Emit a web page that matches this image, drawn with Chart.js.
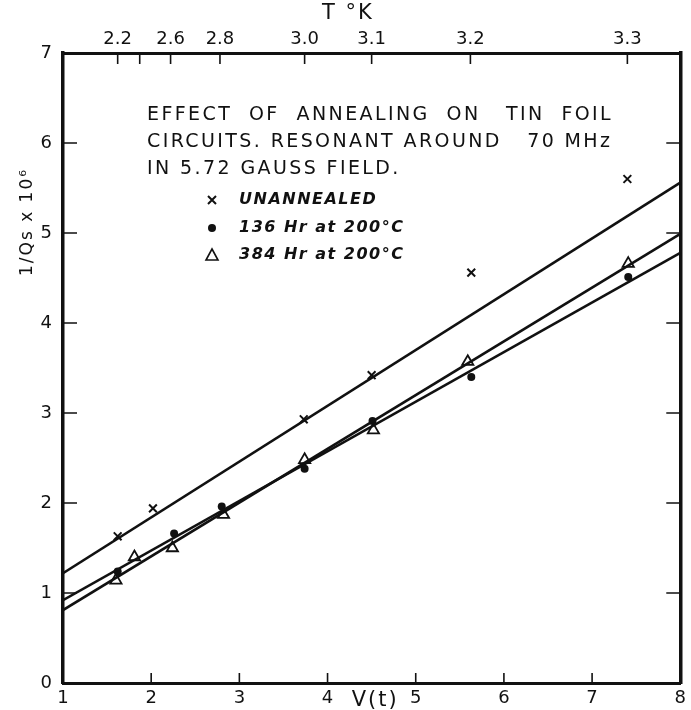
<!DOCTYPE html>
<html>
<head>
<meta charset="utf-8">
<script src="https://cdn.jsdelivr.net/npm/chart.js@4/dist/chart.umd.min.js"></script>
<style>
  html, body { margin: 0; padding: 0; background: #fff; }
</style>
</head>
<body>
<canvas id="anneal-chart" width="691" height="710"></canvas>
<script>
const unannealedV = [1.62, 2.02, 3.73, 4.50, 5.63, 7.40];
const unannealedQ = [1.63, 1.94, 2.93, 3.42, 4.56, 5.60];

const hr136V = [1.62, 2.26, 2.80, 3.74, 4.51, 5.63, 7.41];
const hr136Q = [1.24, 1.66, 1.96, 2.38, 2.91, 3.40, 4.51];

const hr384V = [1.60, 1.81, 2.24, 2.82, 3.74, 4.52, 5.59, 7.41];
const hr384Q = [1.14, 1.40, 1.50, 1.87, 2.48, 2.81, 3.57, 4.66];

// straight fitted lines, end values at V = 1 and V = 8
const fitV = [1, 8];
const unannealedFit = [1.22, 5.56];
const hr136Fit = [0.92, 4.78];
const hr384Fit = [0.81, 4.99];

// top axis: temperature ticks placed at their V(t) value
const tempTickV = [1.62, 1.87, 2.22, 2.78, 3.74, 4.50, 5.62, 7.40];
const tempTickLabels = ['2.2', '', '2.6', '2.8', '3.0', '3.1', '3.2', '3.3'];

const vTicks = [1, 2, 3, 4, 5, 6, 7, 8];
const qTicks = [0, 1, 2, 3, 4, 5, 6, 7];

const noteLines = [
    'EFFECT  OF  ANNEALING  ON   TIN  FOIL',
    'CIRCUITS. RESONANT AROUND   70 MHz',
    'IN 5.72 GAUSS FIELD.'
];
const legendLabels = ['UNANNEALED', '136 Hr at 200°C', '384 Hr at 200°C'];

const ink = '#111';
const tickFont = { family: 'DejaVu Sans', size: 18 };

const toPoints = (xs, ys) => xs.map((x, i) => ({ x: x, y: ys[i] }));

const lineSet = (ys) => ({
    data: toPoints(fitV, ys),
    showLine: true,
    borderColor: ink,
    borderWidth: 2.6,
    pointRadius: 0,
    pointHoverRadius: 0
});

const paperPlugin = {
    id: 'paper',
    afterDraw(chart) {
        const ctx = chart.ctx;
        const area = chart.chartArea;
        const x = chart.scales.x;
        const y = chart.scales.y;
        ctx.save();
        ctx.strokeStyle = ink;
        ctx.lineWidth = 1.6;

        // inward tick marks
        qTicks.slice(1, -1).forEach(v => {
            const py = y.getPixelForValue(v);
            ctx.beginPath();
            ctx.moveTo(area.left, py);
            ctx.lineTo(area.left + 14, py);
            ctx.moveTo(area.right, py);
            ctx.lineTo(area.right - 14, py);
            ctx.stroke();
        });
        vTicks.slice(1, -1).forEach(v => {
            const px = x.getPixelForValue(v);
            ctx.beginPath();
            ctx.moveTo(px, area.bottom);
            ctx.lineTo(px, area.bottom - 10);
            ctx.stroke();
        });
        tempTickV.forEach(v => {
            const px = x.getPixelForValue(v);
            ctx.beginPath();
            ctx.moveTo(px, area.top);
            ctx.lineTo(px, area.top + 11);
            ctx.stroke();
        });

        // axis titles
        ctx.fillStyle = ink;
        ctx.textBaseline = 'middle';
        ctx.textAlign = 'center';
        ctx.font = '21px "DejaVu Sans"';
        ctx.letterSpacing = '2px';
        ctx.fillText('T °K', 348, 14);
        ctx.fillText('V(t)', x.getPixelForValue(4.54), 701);

        ctx.save();
        ctx.translate(28, 222);
        ctx.rotate(-Math.PI / 2);
        ctx.font = '17px "DejaVu Sans"';
        ctx.letterSpacing = '2px';
        ctx.fillText('1/Qs x 10⁶', 0, 0);
        ctx.restore();

        // note block
        ctx.textAlign = 'left';
        ctx.font = '19px "DejaVu Sans"';
        ctx.letterSpacing = '2.4px';
        noteLines.forEach((t, i) => ctx.fillText(t, 147, 115 + i * 27));

        // legend
        ctx.font = 'italic bold 16px "DejaVu Sans"';
        ctx.letterSpacing = '1.5px';
        const rows = [200, 228, 255];
        legendLabels.forEach((t, i) => ctx.fillText(t, 239, rows[i]));

        const lx = 212;
        ctx.lineWidth = 2;
        ctx.beginPath();
        ctx.moveTo(lx - 4, rows[0] - 4);
        ctx.lineTo(lx + 4, rows[0] + 4);
        ctx.moveTo(lx + 4, rows[0] - 4);
        ctx.lineTo(lx - 4, rows[0] + 4);
        ctx.stroke();

        ctx.beginPath();
        ctx.arc(lx, rows[1], 4, 0, Math.PI * 2);
        ctx.fill();

        ctx.lineWidth = 1.6;
        ctx.beginPath();
        ctx.moveTo(lx, rows[2] - 6);
        ctx.lineTo(lx + 6, rows[2] + 5);
        ctx.lineTo(lx - 6, rows[2] + 5);
        ctx.closePath();
        ctx.stroke();
        ctx.restore();
    }
};

new Chart(document.getElementById('anneal-chart'), {
    type: 'scatter',
    data: {
        datasets: [
            lineSet(unannealedFit),
            lineSet(hr136Fit),
            lineSet(hr384Fit),
            {
                data: toPoints(unannealedV, unannealedQ),
                pointStyle: 'crossRot',
                pointRadius: 5.5,
                borderColor: ink,
                pointBorderWidth: 2
            },
            {
                data: toPoints(hr136V, hr136Q),
                pointStyle: 'circle',
                pointRadius: 4,
                backgroundColor: ink,
                borderColor: ink,
                pointBorderWidth: 0
            },
            {
                data: toPoints(hr384V, hr384Q),
                pointStyle: 'triangle',
                pointRadius: 6.5,
                backgroundColor: 'rgba(255,255,255,0)',
                borderColor: ink,
                pointBorderWidth: 1.8
            }
        ]
    },
    options: {
        responsive: false,
        animation: false,
        events: [],
        layout: { padding: 0 },
        plugins: {
            legend: { display: false },
            tooltip: { enabled: false }
        },
        scales: {
            x: {
                type: 'linear',
                position: 'bottom',
                min: 1,
                max: 8,
                afterBuildTicks: (s) => { s.ticks = vTicks.map(v => ({ value: v })); },
                afterFit: (s) => { s.height = 27; },
                ticks: { color: ink, font: tickFont, padding: 5, autoSkip: false, maxRotation: 0 },
                grid: { drawOnChartArea: false, drawTicks: false },
                border: { color: ink, width: 3 }
            },
            xTop: {
                type: 'linear',
                position: 'top',
                min: 1,
                max: 8,
                afterBuildTicks: (s) => { s.ticks = tempTickV.map(v => ({ value: v })); },
                afterFit: (s) => { s.height = 53; },
                ticks: {
                    color: ink,
                    font: tickFont,
                    padding: 3,
                    autoSkip: false,
                    maxRotation: 0,
                    callback: (v, i) => tempTickLabels[i]
                },
                grid: { drawOnChartArea: false, drawTicks: false },
                border: { color: ink, width: 3 }
            },
            y: {
                type: 'linear',
                position: 'left',
                min: 0,
                max: 7,
                afterBuildTicks: (s) => { s.ticks = qTicks.map(v => ({ value: v })); },
                afterFit: (s) => { s.width = 63; },
                ticks: { color: ink, font: tickFont, padding: 11 },
                grid: { drawOnChartArea: false, drawTicks: false },
                border: { color: ink, width: 3.5 }
            },
            yRight: {
                type: 'linear',
                position: 'right',
                min: 0,
                max: 7,
                afterFit: (s) => { s.width = 8; },
                ticks: { display: false },
                grid: { drawOnChartArea: false, drawTicks: false },
                border: { color: ink, width: 3.5 }
            }
        }
    },
    plugins: [paperPlugin]
});
</script>
</body>
</html>
